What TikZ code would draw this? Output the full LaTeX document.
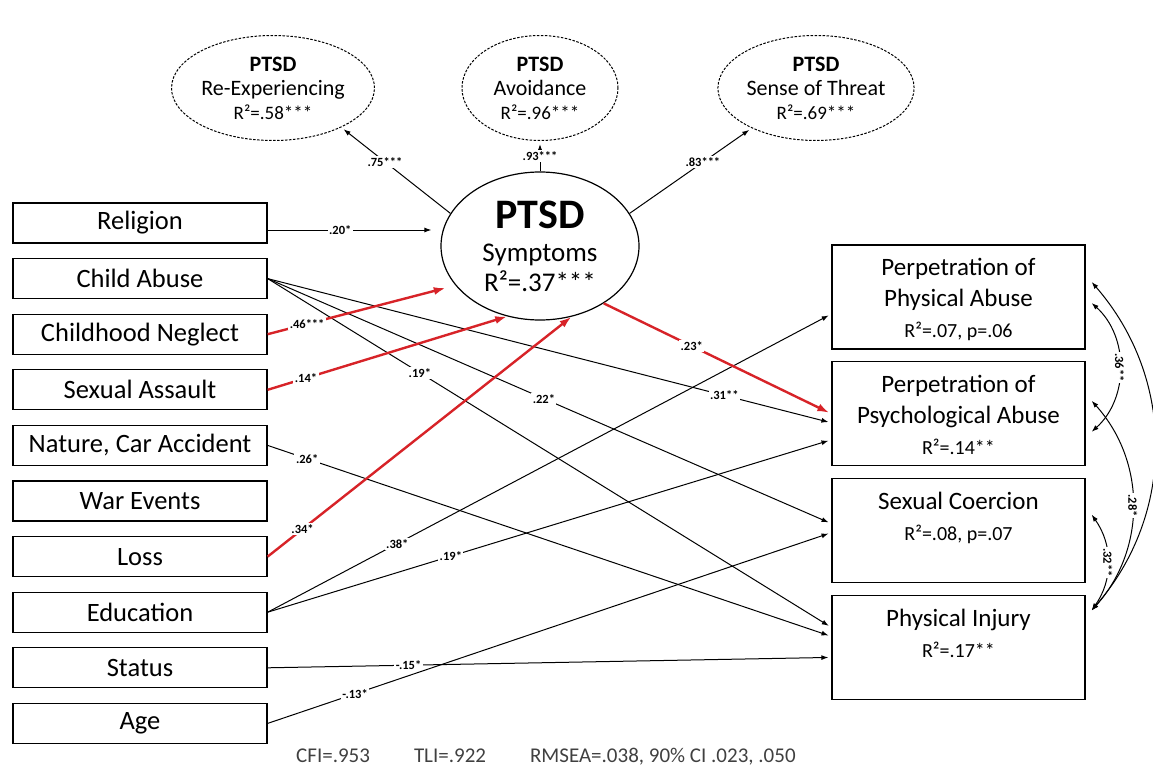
\documentclass[tikz,border=0pt]{standalone}
\usepackage{fontspec}
\setmainfont{Carlito}
\usetikzlibrary{positioning, calc, arrows.meta, shapes.geometric}
\definecolor{pathred}{RGB}{215,35,40}

\begin{document}
\begin{tikzpicture}[x=1pt, y=-1pt,
  leftbox/.style = {draw, line width=1.3pt, minimum width=254pt, minimum height=40pt, inner sep=0pt, font=\fontsize{26.5}{28}\selectfont},
  rightbox/.style = {draw, line width=1.3pt, minimum width=253pt, minimum height=104pt, inner sep=0pt},
  rbtext/.style = {align=center, inner sep=2pt, font=\fontsize{25}{31}\selectfont},
  factor/.style = {draw, ellipse, dash pattern=on 2.5pt off 1.5pt, line width=1pt, minimum width=156pt, minimum height=105pt, inner sep=0pt, align=center, font=\fontsize{22}{24}\selectfont},
  latent/.style = {draw, ellipse, line width=1.2pt, minimum width=198pt, minimum height=148pt, inner sep=0pt, align=center, font=\fontsize{27}{30}\selectfont},
  effect/.style = {-{Latex[length=7pt,width=5pt]}, line width=1pt, shorten >=3pt},
  redpath/.style = {-{Latex[length=12pt,width=8pt]}, line width=2.4pt, pathred},
  corr/.style = {{Latex[length=7pt,width=5pt]}-{Latex[length=7pt,width=5pt]}, line width=1pt},
  coef/.style = {fill=white, text=black, inner sep=1.5pt, font=\fontsize{12.5}{12.5}\selectfont\bfseries},
  fitstats/.style = {anchor=west, inner sep=0pt, text=black!75, font=\fontsize{21}{21}\selectfont}
  ]
  \useasboundingbox (0,0) rectangle (1153,773);

  \node[leftbox] (relig) at (140,223) {Religion};
  \node[leftbox, below=14.3pt of relig] (abuse) {Child Abuse};
  \node[leftbox, below=14.3pt of abuse] (neglect) {Childhood Neglect};
  \node[leftbox, below=14.3pt of neglect] (assault) {Sexual Assault};
  \node[leftbox, below=14.3pt of assault] (nature) {Nature, Car Accident};
  \node[leftbox, below=14.3pt of nature] (war) {War Events};
  \node[leftbox, below=14.3pt of war] (loss) {Loss};
  \node[leftbox, below=14.3pt of loss] (educ) {Education};
  \node[leftbox, below=14.3pt of educ] (status) {Status};
  \node[leftbox, below=14.3pt of status] (age) {Age};

  \node[latent] (ptsd) at (540,246) {{\fontsize{42}{42}\selectfont\bfseries PTSD}\\[3pt]Symptoms\\R²=.37***};
  \node[factor] (reexp) at (273,88) {{\bfseries PTSD}\\Re-Experiencing\\{\fontsize{19}{19}\selectfont R²=.58***}};
  \node[factor] (avoid) at (540,88) {{\bfseries PTSD}\\Avoidance\\{\fontsize{19}{19}\selectfont R²=.96***}};
  \node[factor] (threat) at (816,88) {{\bfseries PTSD}\\Sense of Threat\\{\fontsize{19}{19}\selectfont R²=.69***}};

  \node[rightbox] (perpphys) at (958.5,297) {};
  \node[rightbox, below=11.5pt of perpphys] (psych) {};
  \node[rightbox, below=11.5pt of psych] (coerc) {};
  \node[rightbox, below=11.5pt of coerc] (injury) {};
  \node[rbtext, below=12pt of perpphys.north] (perpphyslbl) {Perpetration of\\Physical Abuse\\{\fontsize{20}{20}\selectfont R²=.07, p=.06}};
  \node[rbtext, below=12pt of psych.north] (psychlbl) {Perpetration of\\Psychological Abuse\\{\fontsize{20}{20}\selectfont R²=.14**}};
  \node[rbtext, below=12pt of coerc.north] (coerclbl) {Sexual Coercion\\{\fontsize{20}{20}\selectfont R²=.08, p=.07}};
  \node[rbtext, below=12pt of injury.north] (injurylbl) {Physical Injury\\{\fontsize{20}{20}\selectfont R²=.17**}};

  \coordinate (religout) at ($(relig.east)+(0,7)$);

  \draw[effect] (ptsd.160) -- node[coef, pos=.6] {.75***} (reexp.330);
  \draw[effect] (ptsd.north) -- node[coef] {.93***} (avoid.south);
  \draw[effect] (ptsd.20) -- node[coef, pos=.6] {.83***} (threat.212);

  \draw[effect, shorten >=9pt] (religout) -- node[coef, pos=.42] {.20*} (religout -| ptsd.west);
  \draw[effect] (abuse.east) -- node[coef, pos=.81] {.31**} ($(psych.west)+(0,9)$);
  \draw[effect] (abuse.east) -- node[coef, pos=.49] {.22*} ($(coerc.west)+(0,-7)$);
  \draw[effect] (abuse.east) -- node[coef, pos=.27] {.19*} ($(injury.west)+(0,-20)$);
  \draw[effect] (nature.east) -- node[coef, pos=.07] {.26*} ($(injury.west)+(0,-11)$);
  \draw[effect] (educ.east) -- node[coef, pos=.23] {.38*} ($(perpphys.west)+(0,17)$);
  \draw[effect] (educ.east) -- node[coef, pos=.325] {.19*} ($(psych.west)+(0,26)$);
  \draw[effect] (status.east) -- node[coef, pos=.25] {-.15*} ($(injury.west)+(0,10)$);
  \draw[effect] (age.east) -- node[coef, pos=.155] {-.13*} ($(coerc.west)+(0,2)$);

  \draw[redpath, shorten >=10pt] (neglect.east) -- node[coef, pos=.21] {.46***} (ptsd.205);
  \draw[redpath] (assault.east) -- node[coef, pos=.16] {.14*} (ptsd.245);
  \draw[redpath] (loss.east) -- node[coef, pos=.115] {.34*} (ptsd.294);
  \draw[redpath] (ptsd.318) -- node[coef, pos=.39] {.23*} ($(psych.west)+(-2,-1)$);

  \draw[corr] ($(perpphys.east)+(6,-15)$) to[bend left=41] ($(injury.east)+(6,-37)$);
  \draw[corr] ($(perpphys.east)+(6,6)$) to[bend left=48] node[coef, rotate=-90] {.36**} ($(psych.east)+(6,18)$);
  \draw[corr] ($(psych.east)+(6,-13)$) to[bend left=42] node[coef, rotate=-90] {.28*} ($(injury.east)+(6,-37)$);
  \draw[corr] ($(coerc.east)+(6,-16)$) to[bend left=35] node[coef, rotate=-90] {.32**} ($(injury.east)+(6,-37)$);

  \node[fitstats] (fitline) at (296,757) {CFI=.953\hspace{44pt}TLI=.922\hspace{44pt}RMSEA=.038, 90\% CI .023, .050};
\end{tikzpicture}
\end{document}
